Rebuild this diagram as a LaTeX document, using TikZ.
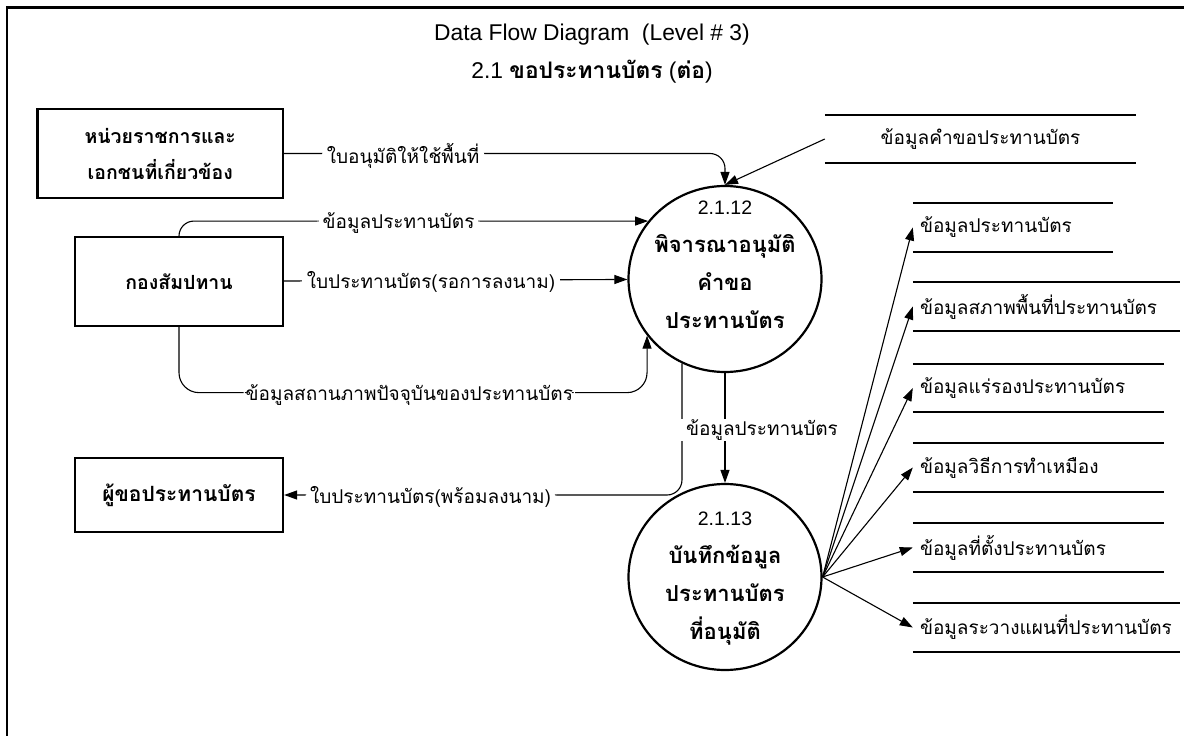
\documentclass[tikz,border=0pt]{standalone}
\usepackage{fontspec}
\setmainfont{Liberation Sans}
\newfontfamily\thai[Script=Thai]{Loma}
\usetikzlibrary{arrows.meta,shapes.geometric}

\tikzset{
  entity/.style={draw, line width=2.2pt, inner sep=0pt, align=center,
    font=\thai\bfseries\fontsize{19.5}{36}\selectfont},
  process/.style={draw, ellipse, line width=2.2pt, minimum width=193pt, minimum height=186pt, inner sep=0pt},
  proctext/.style={align=center, inner sep=0pt, font=\thai\bfseries\fontsize{22}{38}\selectfont},
  store/.style={minimum height=48pt, inner sep=0pt, inner xsep=7pt, align=left,
    font=\thai\fontsize{19}{22}\selectfont},
  storeline/.style={line width=2.2pt},
  flow/.style={-{Triangle[length=13pt,width=9pt]}, line width=1.1pt},
  lbl/.style={fill=white, inner xsep=5pt, inner ysep=1pt, yshift=-2pt, font=\thai\fontsize{19}{22}\selectfont}
}

\begin{document}
\begin{tikzpicture}[x=1pt,y=-1pt]
    \useasboundingbox (0,0) rectangle (1184,736);
    % Frame and title
    \draw[line width=2.7pt] (7,760) -- (7,7.5) -- (1200,7.5);
    \node[font=\fontsize{22.8}{27}\selectfont] (title) at (592,35) {Data Flow Diagram\ \ (Level \# 3)};
    \node[font=\fontsize{22.8}{27}\selectfont] (subtitle) at (592,72)
        {2.1 {\thai\bfseries ขอประทานบัตร} ({\thai\bfseries ต่อ})};

    % External entities
    \node[entity, minimum width=245.5pt, minimum height=89pt] (b1) at (160.25,153.5) {หน่วยราชการและ\\เอกชนที่เกี่ยวข้อง};
    \node[entity, minimum width=208pt, minimum height=89pt] (b2) at (179,281.5) {กองสัมปทาน};
    \node[entity, minimum width=208pt, minimum height=74pt, font=\thai\bfseries\fontsize{21}{36}\selectfont] (b3) at (179,495) {ผู้ขอประทานบัตร};

    % Processes
    \node[process] (c1) at (725,279) {};
    \node[proctext] (c1t) at ([yshift=14pt]c1.center)
        {{\mdseries\fontspec{Liberation Sans}\fontsize{19.5}{38}\selectfont 2.1.12}\\พิจารณาอนุมัติ\\คำขอ\\ประทานบัตร};
    \node[process] (c2) at (725,577) {};
    \node[proctext] (c2t) at ([yshift=-2pt]c2.center)
        {{\mdseries\fontspec{Liberation Sans}\fontsize{19.5}{38}\selectfont 2.1.13}\\บันทึกข้อมูล\\ประทานบัตร\\ที่อนุมัติ};

    % Data stores
    \node[store, minimum width=311pt] (s1) at (980.5,139) {ข้อมูลคำขอประทานบัตร};
    \node[store, text width=186pt] (s2) at (1013,227.5) {ข้อมูลประทานบัตร};
    \node[store, text width=253pt] (s3) at (1046.5,306.5) {ข้อมูลสภาพพื้นที่ประทานบัตร};
    \node[store, text width=237pt] (s4) at (1038.5,388) {ข้อมูลแร่รองประทานบัตร};
    \node[store, text width=237pt] (s5) at (1038.5,467.5) {ข้อมูลวิธีการทำเหมือง};
    \node[store, text width=237pt] (s6) at (1038.5,547.5) {ข้อมูลที่ตั้งประทานบัตร};
    \node[store, text width=253pt] (s7) at (1046.5,627.5) {ข้อมูลระวางแผนที่ประทานบัตร};
    \foreach \s in {s1,s2,s3,s4,s5,s6,s7}
        \draw[storeline] (\s.north west) -- (\s.north east) (\s.south west) -- (\s.south east);

    % Flows into 2.1.12
    \draw[flow, rounded corners=15pt] (b1.east) -| node[lbl, pos=0.135] (f1) {ใบอนุมัติให้ใช้พื้นที่} (c1.north);
    \draw[flow] (s1.west) -- (c1.north);
    \draw[flow, rounded corners=15pt] (b2.north) |- node[lbl, pos=0.734] (f2) {ข้อมูลประทานบัตร} (c1.143);
    \draw[flow] (b2) -- node[lbl, pos=0.428] (f3) {ใบประทานบัตร(รอการลงนาม)} (c1);
    \draw[flow, rounded corners=20pt] (b2.south) |- node[lbl, pos=0.746, inner xsep=2pt] (f4) {ข้อมูลสถานภาพปัจจุบันของประทานบัตร} ([yshift=-57pt]c1.216) -- (c1.216);

    % Flows out of 2.1.12
    \draw[flow, rounded corners=15pt] (c1.243) |- node[lbl, pos=0.816] (f5) {ใบประทานบัตร(พร้อมลงนาม)} (b3.east);
    \draw[flow] (c1) -- node[lbl, xshift=37pt] (f6) {ข้อมูลประทานบัตร} (c2);

    % Flows out of 2.1.13
    \foreach \s in {s2,s3,s4,s5,s6,s7}
        \draw[flow] (c2.east) -- (\s.west);
\end{tikzpicture}
\end{document}
